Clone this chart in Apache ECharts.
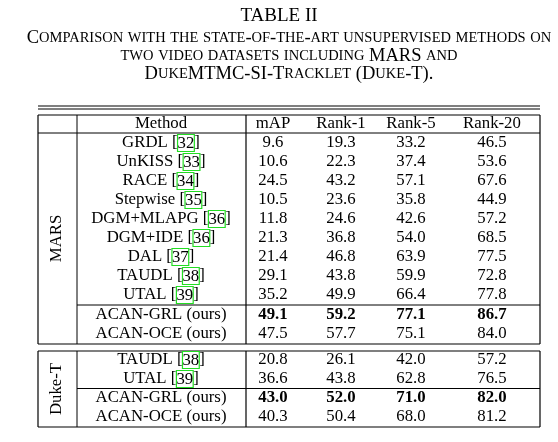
<!DOCTYPE html>
<html><head><meta charset="utf-8">
<script src="https://cdn.jsdelivr.net/npm/echarts@6/dist/echarts.min.js"></script>
<style>html,body{margin:0;background:#fff}#c{width:558px;height:442px}</style>
</head><body><div id="c"></div>
<script>
const titleLines = ["Comparison with the state-of-the-art unsupervised methods on", "two video datasets including MARS and", "DukeMTMC-SI-Tracklet (Duke-T)."];
const headers = ["Method", "mAP", "Rank-1", "Rank-5", "Rank-20"];
const marsMethods = [["GRDL", "32"], ["UnKISS", "33"], ["RACE", "34"], ["Stepwise", "35"], ["DGM+MLAPG", "36"], ["DGM+IDE", "36"], ["DAL", "37"], ["TAUDL", "38"], ["UTAL", "39"], ["ACAN-GRL (ours)", ""], ["ACAN-OCE (ours)", ""]];
const marsValues = [
  ["9.6", "19.3", "33.2", "46.5"], ["10.6", "22.3", "37.4", "53.6"], ["24.5", "43.2", "57.1", "67.6"],
  ["10.5", "23.6", "35.8", "44.9"], ["11.8", "24.6", "42.6", "57.2"], ["21.3", "36.8", "54.0", "68.5"],
  ["21.4", "46.8", "63.9", "77.5"], ["29.1", "43.8", "59.9", "72.8"], ["35.2", "49.9", "66.4", "77.8"],
  ["49.1", "59.2", "77.1", "86.7"], ["47.5", "57.7", "75.1", "84.0"]];
const dukeMethods = [["TAUDL", "38"], ["UTAL", "39"], ["ACAN-GRL (ours)", ""], ["ACAN-OCE (ours)", ""]];
const dukeValues = [["20.8", "26.1", "42.0", "57.2"], ["36.6", "43.8", "62.8", "76.5"], ["43.0", "52.0", "71.0", "82.0"], ["40.3", "50.4", "68.0", "81.2"]];
const marsBold = 9, dukeBold = 2;

const F = '"Liberation Serif", "DejaVu Serif", serif';
const FS = '16.8px ';
const colX = [161, 273, 341, 411, 492];
const L = 38, R = 540, RH = 19;
const g = [];
const line = (x1, y1, x2, y2, w) => g.push({ type: 'line', shape: { x1, y1, x2, y2 }, style: { stroke: '#000', lineWidth: w || 1 } });
const text = (x, y, t, opt) => g.push(Object.assign({ type: 'text', x, y, style: Object.assign({ text: t, font: FS + F, fill: '#000', align: 'center', verticalAlign: 'middle' }, opt || {}) }));

function smallCaps(s) {
  let out = '', cur = null, buf = '';
  const flush = () => { if (buf) out += '{' + cur + '|' + buf + '}'; buf = ''; };
  for (const ch of s) {
    const st = (ch >= 'a' && ch <= 'z') ? 's' : 'b';
    if (st !== cur) { flush(); cur = st; }
    buf += ch.toUpperCase();
  }
  flush();
  return out;
}
text(279, 16, 'TABLE II', { font: '19px ' + F });
titleLines.forEach((t, i) => text(289, 38 + i * 18, smallCaps(t), {
  rich: { b: { font: '18.5px ' + F, fill: '#000' }, s: { font: '14.5px ' + F, fill: '#000' } }
}));

const rich = { c: { borderColor: '#22dd22', borderWidth: 1.2, padding: [1, 0, -1, 0], font: FS + F, fill: '#000' } };
function row(y, m, vals, bold) {
  text(colX[0], y, m[1] ? m[0] + ' [{c|' + m[1] + '}]' : m[0], { rich });
  vals.forEach((v, j) => text(colX[j + 1], y, v, { font: (bold ? 'bold ' : '') + FS + F }));
}

line(L, 106, R, 106, 1.2); line(L, 109, R, 109, 1.2);
const hTop = 115;
text(colX[0], 124, headers[0]);
headers.slice(1).forEach((h, j) => text(colX[j + 1], 124, h));
line(L, 133, R, 133);
let y0 = 143;
marsMethods.forEach((m, i) => row(y0 + i * RH + (i >= marsBold ? 1 : 0), m, marsValues[i], i === marsBold));
const marsSep = y0 + marsBold * RH - 9;
line(77, marsSep, R, marsSep);
const marsBot = y0 + marsMethods.length * RH - 8;
line(L, marsBot, R, marsBot, 1.2);
[L, 77, 246, R].forEach(x => line(x, hTop, x, marsBot, x === 77 ? 1 : 1.2));
line(L, hTop, R, hTop, 1.2);
text(57, (133 + marsBot) / 2, 'MARS');
g[g.length - 1].rotation = Math.PI / 2;
const dTop = 351;
line(L, dTop, R, dTop, 1.2);
y0 = 360;
dukeMethods.forEach((m, i) => row(y0 + i * RH, m, dukeValues[i], i === dukeBold));
line(77, y0 + dukeBold * RH - 9.5, R, y0 + dukeBold * RH - 9.5);
const dBot = 427;
line(L, dBot, R, dBot, 1.2);
[L, 77, 246, R].forEach(x => line(x, dTop, x, dBot, x === 77 ? 1 : 1.2));
text(57, (dTop + dBot) / 2, 'Duke-T');
g[g.length - 1].rotation = Math.PI / 2;

const chart = echarts.init(document.getElementById('c'));
chart.setOption({ animation: false, graphic: { elements: g } });
</script></body></html>
